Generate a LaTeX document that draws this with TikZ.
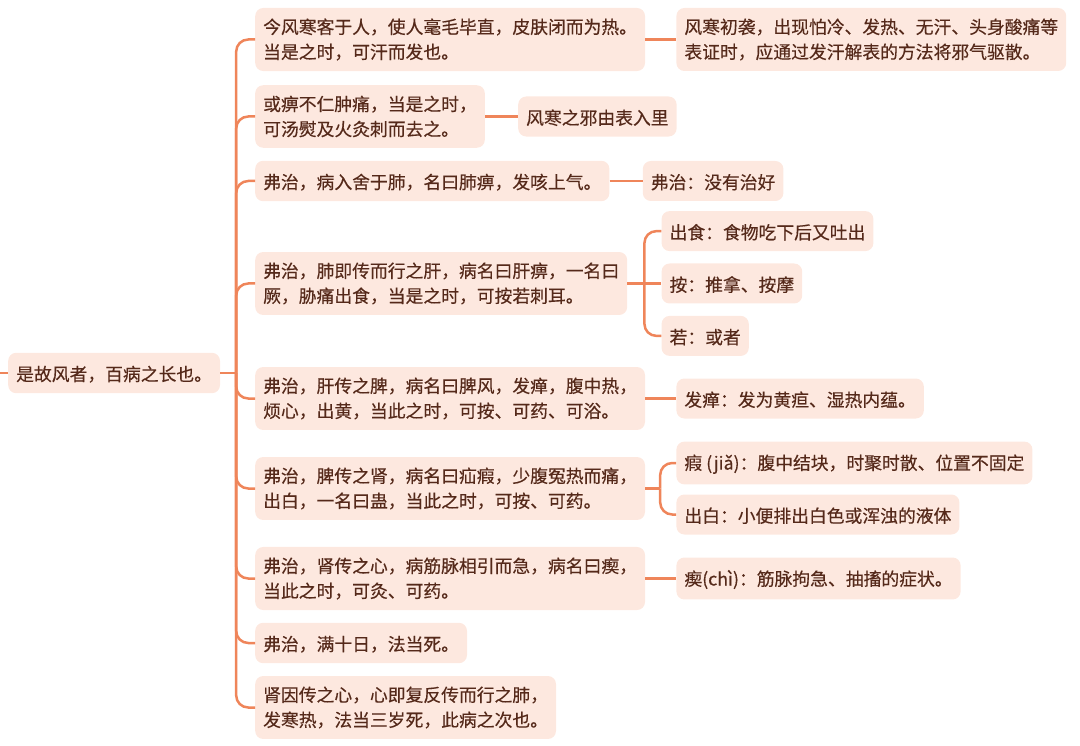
\documentclass[tikz,border=0pt]{standalone}
\usepackage{fontspec}
\setmainfont{Noto Sans CJK SC}[FakeBold=0.35]
\usepackage{tikz}
\usetikzlibrary{positioning}
\definecolor{mmline}{HTML}{EF855A}
\definecolor{mmfill}{HTML}{FDE8DF}
\definecolor{mmtext}{HTML}{55291A}
\newcommand{\mmstrut}{\rule[-1.5pt]{0pt}{19pt}}

\begin{document}
\begin{tikzpicture}[x=1pt, y=-1pt,
    RT/.style={rectangle, rounded corners=8pt, fill=mmfill, text=mmtext,
      font=\fontsize{17.8pt}{25pt}\selectfont, align=left,
      inner xsep=8pt, inner ysep=10.5pt,
      execute at begin node=\mmstrut, execute at end node=\mmstrut},
    LV/.style={RT, anchor=west},
    SB/.style={RT},
    lnk/.style={draw=mmline, line width=2.5pt, rounded corners=12pt}
  ]
    \useasboundingbox (0,0) rectangle (1080,746);

    %% root (left middle)
    \node[RT, anchor=west] (root) at (8,373) {是故风者，百病之长也。};

    %% first level
    \node[LV] (c1) at (255,39.5)
      {今风寒客于人，使人毫毛毕直，皮肤闭而为热。\\当是之时，可汗而发也。};
    \node[LV] (c2) at (255,116.5)
      {或痹不仁肿痛，当是之时，\\可汤熨及火灸刺而去之。};
    \node[LV] (c3) at (255,181) {弗治，病入舍于肺，名曰肺痹，发咳上气。};
    \node[LV] (c4) at (255,283.5)
      {弗治，肺即传而行之肝，病名曰肝痹，一名曰\\厥，胁痛出食，当是之时，可按若刺耳。};
    \node[LV] (c5) at (255,398.5)
      {弗治，肝传之脾，病名曰脾风，发瘅，腹中热，\\烦心，出黄，当此之时，可按、可药、可浴。};
    \node[LV] (c6) at (255,488.5)
      {弗治，脾传之肾，病名曰疝瘕，少腹冤热而痛，\\出白，一名曰蛊，当此之时，可按、可药。};
    \node[LV] (c7) at (255,578.5)
      {弗治，肾传之心，病筋脉相引而急，病名曰瘈，\\当此之时，可灸、可药。};
    \node[LV] (c8) at (255,643) {弗治，满十日，法当死。};
    \node[LV] (c9) at (255,707.5)
      {肾因传之心，心即复反传而行之肺，\\发寒热，法当三岁死，此病之次也。};

    %% second level (notes)
    \node[SB, right=31pt of c1] (d1)
      {风寒初袭，出现怕冷、发热、无汗、头身酸痛等\\表证时，应通过发汗解表的方法将邪气驱散。};
    \node[SB, right=33pt of c2] (d2) {风寒之邪由表入里};
    \node[SB, right=33pt of c3] (d3) {弗治：没有治好};
    \node[SB, right=34pt of c4] (e2) {按：推拿、按摩};
    \node[SB, above=12pt of e2.north west, anchor=south west] (e1) {出食：食物吃下后又吐出};
    \node[SB, below=12pt of e2.south west, anchor=north west] (e3) {若：或者};
    \node[SB, right=31pt of c5] (d5) {发瘅：发为黄疸、湿热内蕴。};
    \node[SB, right=31pt of c6, yshift=25.5pt] (f1) {瘕 (jiǎ)：腹中结块，时聚时散、位置不固定};
    \node[SB, right=31pt of c6, yshift=-26pt] (f2) {出白：小便排出白色或浑浊的液体};
    \node[SB, right=31pt of c7] (g1) {瘈(chì)：筋脉拘急、抽搐的症状。};

    %% connectors
    \coordinate (lt) at (0,373);
    \draw[lnk] (lt) -- (root.west);
    \draw[lnk] (root.east) -- ++(16,0) coordinate (rj);
    \foreach \n in {c1,c2,c3,c4,c5,c6,c7,c8,c9}
      \draw[lnk] (rj) |- (\n.west);

    \draw[lnk] (c1.east) -- (d1.west);
    \draw[lnk] (c2.east) -- (d2.west);
    \draw[lnk] (c3.east) -- (d3.west);
    \draw[lnk] (c4.east) -- (e2.west);
    \draw[lnk] (c4.east) -- ++(17,0) coordinate (j4);
    \foreach \n in {e1,e3}
      \draw[lnk] (j4) |- (\n.west);
    \draw[lnk] (c5.east) -- (d5.west);
    \draw[lnk] (c6.east) -- ++(15,0) coordinate (j6);
    \foreach \n in {f1,f2}
      \draw[lnk] (j6) |- (\n.west);
    \draw[lnk] (c7.east) -- (g1.west);
\end{tikzpicture}
\end{document}
